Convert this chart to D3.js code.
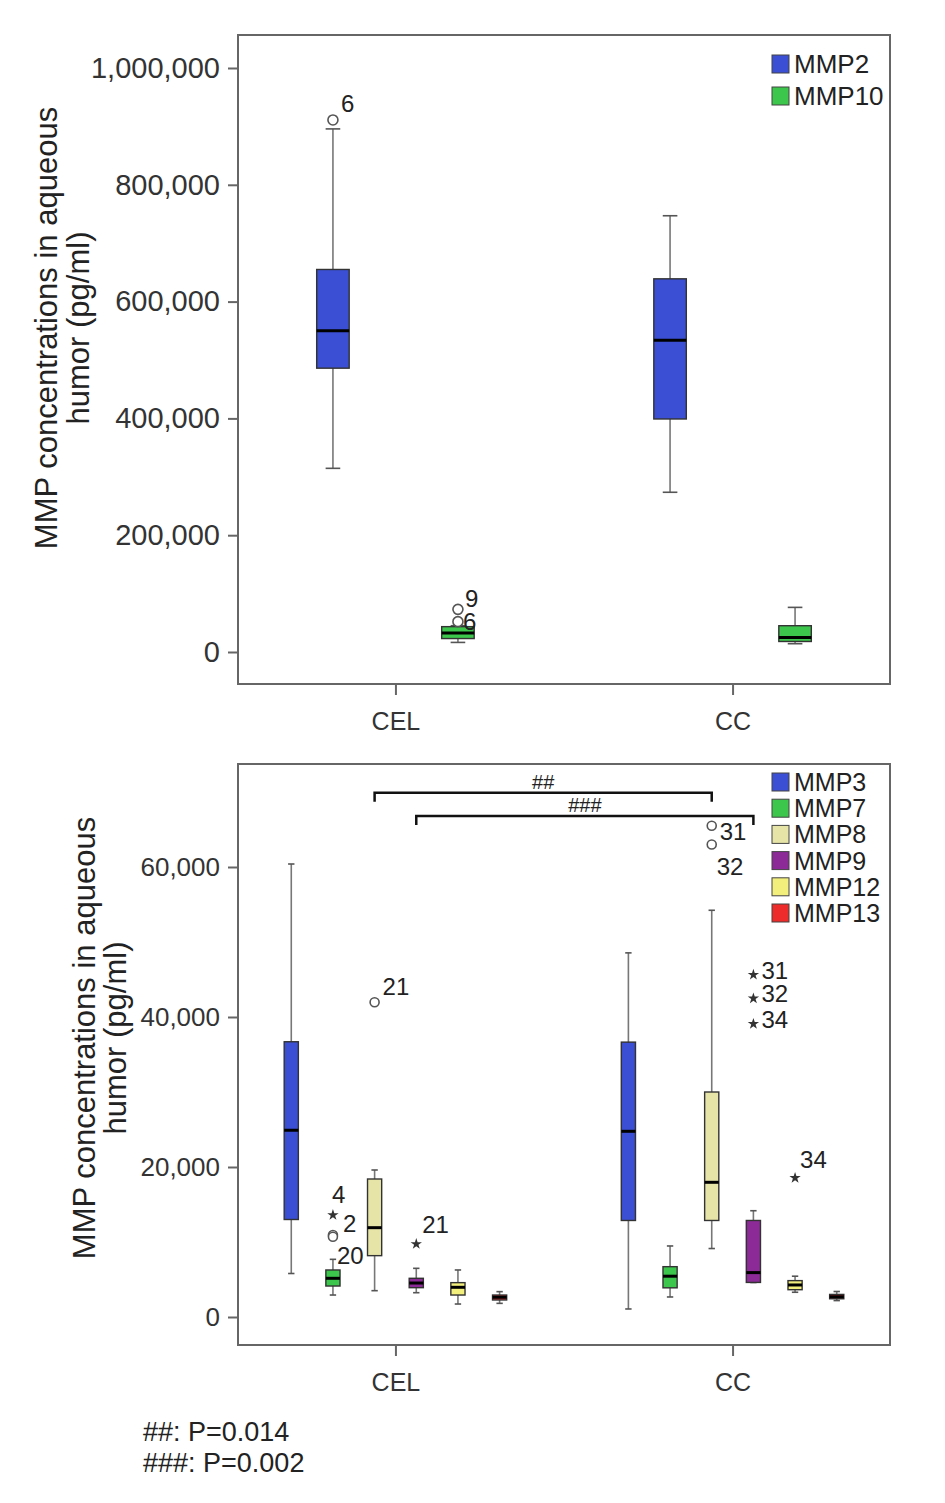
<!DOCTYPE html>
<html>
<head>
<meta charset="utf-8">
<script src="https://cdn.jsdelivr.net/npm/d3@7"></script>
<style>
  html, body { margin: 0; padding: 0; background: #fff; }
  svg { display: block; font-family: 'Liberation Sans', Arial, sans-serif; }
</style>
</head>
<body>
<svg id="chart" width="945" height="1503"></svg>
<script>
// ─── Data ────────────────────────────────────────────────────────────────────
const groups = ['CEL', 'CC'];

// Box stats are [lower whisker, Q1, median, Q3, upper whisker], one row per group (CEL, CC)
const topSeries = ['MMP2', 'MMP10'];
const mmp2Stats  = [[314500, 486000, 550000, 655000, 895700], [273500, 399000, 534000, 639000, 747000]];
const mmp10Stats = [[16400, 23000, 32500, 43400, 45000], [14200, 18000, 25000, 45000, 76400]];
const topTicks = [0, 200000, 400000, 600000, 800000, 1000000];
const topOutliers = [
  { group: 'CEL', series: 'MMP2',  value: 911000, id: '6', kind: 'circle' },
  { group: 'CEL', series: 'MMP10', value: 73000,  id: '9', kind: 'circle' },
  { group: 'CEL', series: 'MMP10', value: 52000,  id: '6', kind: 'circle' },
];

const bottomSeries = ['MMP3', 'MMP7', 'MMP8', 'MMP9', 'MMP12', 'MMP13'];
const mmp3Stats  = [[5800, 13000, 24900, 36700, 60400], [1070, 12870, 24760, 36650, 48550]];
const mmp7Stats  = [[2930, 4130, 5160, 6270, 7690],     [2670, 3890, 5440, 6710, 9470]];
const mmp8Stats  = [[3510, 8180, 11910, 18400, 19600],  [9130, 12870, 17960, 30000, 54230]];
const mmp9Stats  = [[3240, 3910, 4530, 5160, 6490],     [4600, 4610, 5920, 12870, 14170]];
const mmp12Stats = [[1730, 2930, 3960, 4580, 6270],     [3300, 3640, 4270, 4850, 5440]];
const mmp13Stats = [[1820, 2270, 2630, 2930, 3380],     [2190, 2430, 2700, 3010, 3400]];
const bottomTicks = [0, 20000, 40000, 60000];
const bottomOutliers = [
  { group: 'CEL', series: 'MMP7',  value: 13600, id: '4',  kind: 'star' },
  { group: 'CEL', series: 'MMP7',  value: 10930, id: '2',  kind: 'circle' },
  { group: 'CEL', series: 'MMP7',  value: 10700, id: '20', kind: 'circle' },
  { group: 'CEL', series: 'MMP8',  value: 41960, id: '21', kind: 'circle' },
  { group: 'CEL', series: 'MMP9',  value: 9730,  id: '21', kind: 'star' },
  { group: 'CC',  series: 'MMP8',  value: 65500, id: '31', kind: 'circle' },
  { group: 'CC',  series: 'MMP8',  value: 63000, id: '32', kind: 'circle' },
  { group: 'CC',  series: 'MMP9',  value: 45630, id: '31', kind: 'star' },
  { group: 'CC',  series: 'MMP9',  value: 42480, id: '32', kind: 'star' },
  { group: 'CC',  series: 'MMP9',  value: 39080, id: '34', kind: 'star' },
  { group: 'CC',  series: 'MMP12', value: 18550, id: '34', kind: 'star' },
];
// significance brackets, CEL -> CC for one series, drawn at a data value
const brackets = [
  { series: 'MMP8', value: 69900, label: '##' },
  { series: 'MMP9', value: 66800, label: '###' },
];
const footnotes = ['##: P=0.014', '###: P=0.002'];

// ─── Styles / layout ─────────────────────────────────────────────────────────
const COLORS = {
  MMP2: '#3a4fd4', MMP10: '#3cc64c',
  MMP3: '#3a4fd4', MMP7: '#3cc64c', MMP8: '#e7e4a8',
  MMP9: '#8c2a98', MMP12: '#f3ef7c', MMP13: '#ee2b2b',
};
const GROUP_HALF = 125;   // half width of the block of boxes around a group tick

// label offsets (px) for outlier ids, same order as the outlier arrays
const topLabelOffsets = [[8, -8], [7, -2], [5, 8]];
const bottomLabelOffsets = [[-1, -12], [10, -3], [4, 27], [8, -7], [6, -11],
                            [8, 14], [5, 31], [8, 4], [8, 4], [8, 4], [5, -10]];

const svg = d3.select('#chart');

function drawPanel(p) {
  const g = svg.append('g');
  const y = d3.scaleLinear().domain(p.domain).range([p.y1, p.y0]);
  const gx = d3.scalePoint().domain(groups).range([p.x0, p.x1]).padding(0.467);
  const sx = d3.scaleBand().domain(p.series).range([-GROUP_HALF, GROUP_HALF])
    .paddingInner(p.pad).paddingOuter(p.pad / 2);
  const bw = sx.bandwidth();
  const cx = (grp, s) => gx(grp) + sx(s) + bw / 2;

  // frame
  g.append('rect')
    .attr('x', p.x0).attr('y', p.y0)
    .attr('width', p.x1 - p.x0).attr('height', p.y1 - p.y0)
    .attr('fill', 'none').attr('stroke', '#666').attr('stroke-width', 2);

  // y axis
  const ya = g.append('g')
    .attr('transform', `translate(${p.x0},0)`)
    .call(d3.axisLeft(y).tickValues(p.ticks).tickFormat(d3.format(',')).tickSize(10).tickPadding(8));
  ya.select('.domain').remove();
  ya.selectAll('line').attr('stroke', '#666').attr('stroke-width', 2);
  ya.selectAll('text').attr('fill', '#333').style('font-size', p.tickFont + 'px')
    .style('font-family', "'Liberation Sans', Arial, sans-serif");

  // x axis
  const xa = g.append('g')
    .attr('transform', `translate(0,${p.y1})`)
    .call(d3.axisBottom(gx).tickSize(11).tickPadding(17));
  xa.select('.domain').remove();
  xa.selectAll('line').attr('stroke', '#666').attr('stroke-width', 2);
  xa.selectAll('text').attr('fill', '#333').style('font-size', '25px')
    .style('font-family', "'Liberation Sans', Arial, sans-serif");

  // boxes
  const boxes = [];
  p.series.forEach((s, si) => groups.forEach((grp, gi) => {
    const [lo, q1, med, q3, hi] = p.stats[si][gi];
    boxes.push({ s, grp, lo, q1, med, q3, hi });
  }));
  const cap = bw * 0.45;
  const bx = g.append('g').selectAll('g').data(boxes).join('g');
  bx.append('line')
    .attr('x1', d => cx(d.grp, d.s)).attr('x2', d => cx(d.grp, d.s))
    .attr('y1', d => y(d.hi)).attr('y2', d => y(d.lo))
    .attr('stroke', '#777').attr('stroke-width', 1.6);
  bx.selectAll('.cap').data(d => [d.lo, d.hi].map(v => ({ d, v }))).join('line')
    .attr('x1', e => cx(e.d.grp, e.d.s) - cap / 2).attr('x2', e => cx(e.d.grp, e.d.s) + cap / 2)
    .attr('y1', e => y(e.v)).attr('y2', e => y(e.v))
    .attr('stroke', '#555').attr('stroke-width', 1.6);
  bx.append('rect')
    .attr('x', d => cx(d.grp, d.s) - bw / 2).attr('width', bw)
    .attr('y', d => y(d.q3)).attr('height', d => Math.max(1, y(d.q1) - y(d.q3)))
    .attr('fill', d => COLORS[d.s]).attr('stroke', '#333').attr('stroke-width', 1.4);
  bx.append('line')
    .attr('x1', d => cx(d.grp, d.s) - bw / 2).attr('x2', d => cx(d.grp, d.s) + bw / 2)
    .attr('y1', d => y(d.med)).attr('y2', d => y(d.med))
    .attr('stroke', '#000').attr('stroke-width', 3);

  // outliers
  const star = d3.symbol(d3.symbolStar).size(40);
  const og = g.append('g').selectAll('g').data(p.outliers).join('g')
    .attr('transform', d => `translate(${cx(d.group, d.series)},${y(d.value)})`);
  og.filter(d => d.kind === 'circle').append('circle')
    .attr('r', p.circleR).attr('fill', '#fff').attr('stroke', '#555').attr('stroke-width', 1.6);
  og.filter(d => d.kind === 'star').append('path')
    .attr('d', star).attr('fill', '#333');
  og.append('text')
    .attr('x', (d, i) => p.offsets[i][0]).attr('y', (d, i) => p.offsets[i][1])
    .attr('fill', '#222').style('font-size', '24px')
    .text(d => d.id);

  // legend
  const lg = g.append('g').selectAll('g').data(p.series).join('g')
    .attr('transform', (d, i) => `translate(${p.legendX},${p.legendY + i * p.legendStep})`);
  lg.append('rect')
    .attr('x', 0).attr('y', -9).attr('width', 17).attr('height', 18)
    .attr('fill', d => COLORS[d]).attr('stroke', '#444').attr('stroke-width', 1);
  lg.append('text')
    .attr('x', 22).attr('dy', '0.36em')
    .attr('fill', '#222').style('font-size', p.legendFont + 'px')
    .text(d => d);

  // y label
  const yl = g.append('g').style('font-size', '31px').attr('fill', '#222');
  yl.append('text')
    .attr('transform', `translate(${p.labelX[0]},${p.labelY}) rotate(-90)`)
    .attr('text-anchor', 'middle').text('MMP concentrations in aqueous');
  yl.append('text')
    .attr('transform', `translate(${p.labelX[1]},${p.labelY}) rotate(-90)`)
    .attr('text-anchor', 'middle').text('humor (pg/ml)');

  return { y, cx };
}

// ─── Top panel ───────────────────────────────────────────────────────────────
drawPanel({
  x0: 238, x1: 890, y0: 35, y1: 684,
  domain: [-54800, 1056500], ticks: topTicks, tickFont: 29,
  series: topSeries, stats: [mmp2Stats, mmp10Stats], pad: 0.74,
  outliers: topOutliers, offsets: topLabelOffsets, circleR: 5,
  legendX: 772, legendY: 64, legendStep: 32, legendFont: 26,
  labelX: [57, 89], labelY: 328,
});

// ─── Bottom panel ────────────────────────────────────────────────────────────
const bottom = drawPanel({
  x0: 238, x1: 890, y0: 764, y1: 1345,
  domain: [-3733, 73733], ticks: bottomTicks, tickFont: 26,
  series: bottomSeries, stats: [mmp3Stats, mmp7Stats, mmp8Stats, mmp9Stats, mmp12Stats, mmp13Stats],
  pad: 0.66,
  outliers: bottomOutliers, offsets: bottomLabelOffsets, circleR: 4.5,
  legendX: 772, legendY: 782, legendStep: 26.2, legendFont: 25,
  labelX: [95, 126], labelY: 1038,
});

// significance brackets
const bk = svg.append('g').selectAll('g').data(brackets).join('g');
bk.append('path')
  .attr('d', d => {
    const xa = bottom.cx('CEL', d.series), xb = bottom.cx('CC', d.series), yy = bottom.y(d.value);
    return `M${xa},${yy + 9}V${yy}H${xb}V${yy + 9}`;
  })
  .attr('fill', 'none').attr('stroke', '#111').attr('stroke-width', 2.5);
bk.append('text')
  .attr('x', d => (bottom.cx('CEL', d.series) + bottom.cx('CC', d.series)) / 2)
  .attr('y', d => bottom.y(d.value) - 4)
  .attr('text-anchor', 'middle').attr('fill', '#222').style('font-size', '20px')
  .text(d => d.label);

// footnotes
svg.append('g').selectAll('text').data(footnotes).join('text')
  .attr('x', 143).attr('y', (d, i) => 1441 + i * 31)
  .attr('fill', '#222').style('font-size', '27px')
  .text(d => d);
</script>
</body>
</html>
